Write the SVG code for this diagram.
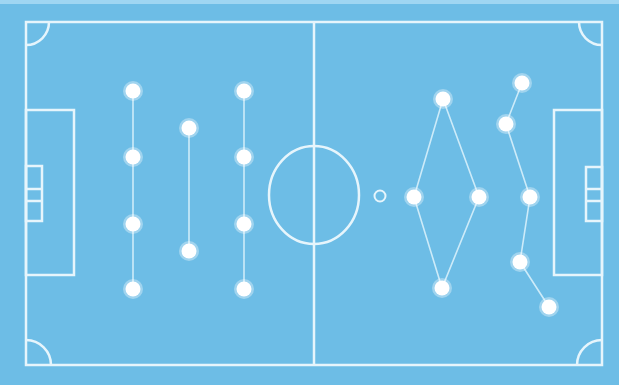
<svg xmlns="http://www.w3.org/2000/svg" width="619" height="385" viewBox="0 0 619 385">
<defs>
<style>
.pitch{fill:none;stroke:#e6f5fc;stroke-width:2.5}
.link{fill:none;stroke:#cdebf9;stroke-width:1.6}
.player{fill:#ffffff}
.halo{fill:#ffffff;opacity:0.35}
.mark{fill:none;stroke:#e6f5fc;stroke-width:2}
</style>
</defs>
<rect x="0" y="0" width="619" height="385" fill="#6dbde6"/>
<rect x="0" y="0" width="619" height="4" fill="#9fd6f2"/>
<g id="pitch">
<rect class="pitch" x="26" y="22" width="576" height="343"/>
<line class="pitch" x1="314" y1="22" x2="314" y2="365"/>
<ellipse class="pitch" cx="314" cy="195" rx="45" ry="49"/>
<rect class="pitch" x="26" y="110" width="48" height="165"/>
<rect class="pitch" x="26" y="166" width="16" height="55"/>
<line class="pitch" x1="26" y1="189" x2="42" y2="189"/>
<line class="pitch" x1="26" y1="201" x2="42" y2="201"/>
<rect class="pitch" x="554" y="110" width="48" height="165"/>
<rect class="pitch" x="586" y="167" width="16" height="54"/>
<line class="pitch" x1="586" y1="189" x2="602" y2="189"/>
<line class="pitch" x1="586" y1="201" x2="602" y2="201"/>
<path class="pitch" d="M26,45 A23,23 0 0 0 49,22"/>
<path class="pitch" d="M579,22 A23,23 0 0 0 602,45"/>
<path class="pitch" d="M26,340 A25,25 0 0 1 51,365"/>
<path class="pitch" d="M602,340 A25,25 0 0 0 577,365"/>
</g>
<g id="connectors">
<line class="link" x1="133" y1="91" x2="133" y2="289"/>
<line class="link" x1="189" y1="128" x2="189" y2="251"/>
<line class="link" x1="244" y1="91" x2="244" y2="289"/>
<polyline class="link" points="414,197 443,99 479,197 442,288 414,197"/>
<polyline class="link" points="522,83 506,124 530,197 520,262 549,307"/>
</g>
<g id="ball"><circle class="mark" cx="380" cy="196" r="5.5"/></g>
<g id="p1"><circle class="halo" cx="133" cy="91" r="10"/><circle class="player" cx="133" cy="91" r="7.5"/></g>
<g id="p2"><circle class="halo" cx="133" cy="157" r="10"/><circle class="player" cx="133" cy="157" r="7.5"/></g>
<g id="p3"><circle class="halo" cx="133" cy="224" r="10"/><circle class="player" cx="133" cy="224" r="7.5"/></g>
<g id="p4"><circle class="halo" cx="133" cy="289" r="10"/><circle class="player" cx="133" cy="289" r="7.5"/></g>
<g id="p5"><circle class="halo" cx="189" cy="128" r="10"/><circle class="player" cx="189" cy="128" r="7.5"/></g>
<g id="p6"><circle class="halo" cx="189" cy="251" r="10"/><circle class="player" cx="189" cy="251" r="7.5"/></g>
<g id="p7"><circle class="halo" cx="244" cy="91" r="10"/><circle class="player" cx="244" cy="91" r="7.5"/></g>
<g id="p8"><circle class="halo" cx="244" cy="157" r="10"/><circle class="player" cx="244" cy="157" r="7.5"/></g>
<g id="p9"><circle class="halo" cx="244" cy="224" r="10"/><circle class="player" cx="244" cy="224" r="7.5"/></g>
<g id="p10"><circle class="halo" cx="244" cy="289" r="10"/><circle class="player" cx="244" cy="289" r="7.5"/></g>
<g id="q1"><circle class="halo" cx="443" cy="99" r="10"/><circle class="player" cx="443" cy="99" r="7.5"/></g>
<g id="q2"><circle class="halo" cx="414" cy="197" r="10"/><circle class="player" cx="414" cy="197" r="7.5"/></g>
<g id="q3"><circle class="halo" cx="479" cy="197" r="10"/><circle class="player" cx="479" cy="197" r="7.5"/></g>
<g id="q4"><circle class="halo" cx="442" cy="288" r="10"/><circle class="player" cx="442" cy="288" r="7.5"/></g>
<g id="q5"><circle class="halo" cx="522" cy="83" r="10"/><circle class="player" cx="522" cy="83" r="7.5"/></g>
<g id="q6"><circle class="halo" cx="506" cy="124" r="10"/><circle class="player" cx="506" cy="124" r="7.5"/></g>
<g id="q7"><circle class="halo" cx="530" cy="197" r="10"/><circle class="player" cx="530" cy="197" r="7.5"/></g>
<g id="q8"><circle class="halo" cx="520" cy="262" r="10"/><circle class="player" cx="520" cy="262" r="7.5"/></g>
<g id="q9"><circle class="halo" cx="549" cy="307" r="10"/><circle class="player" cx="549" cy="307" r="7.5"/></g>
</svg>
